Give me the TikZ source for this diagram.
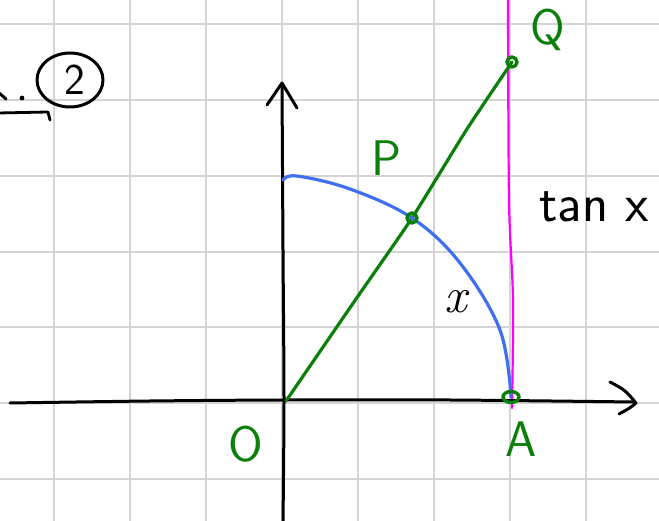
\documentclass[tikz,border=0pt]{standalone}
\definecolor{gridgray}{HTML}{D4D4D4}
\definecolor{pgreen}{HTML}{0A7F0A}
\definecolor{pblue}{HTML}{4070F0}
\definecolor{pmag}{HTML}{FF00FF}
\begin{document}
\begin{tikzpicture}[x=1pt,y=-1pt,line cap=round,line join=round,
  gridline/.style={draw=gridgray,line width=2pt},
  axisline/.style={draw=black,line width=3pt},
  gline/.style={draw=pgreen,line width=3.2pt},
  bline/.style={draw=pblue,line width=3.2pt},
  mline/.style={draw=pmag,line width=2.2pt},
  ptmark/.style={draw=pgreen,line width=3.4pt},
  glabel/.style={text=pgreen,font=\fontsize{50}{50}\selectfont\sffamily,inner sep=0pt},
  klabel/.style={text=black,inner sep=0pt}]
\useasboundingbox (0,0) rectangle (659,521);
\fill[white] (0,0) rectangle (659,521);
% grid
\foreach \gx in {54,130,206,282,358,434,510,586} \draw[gridline] (\gx,-2) -- (\gx,523);
\foreach \gy in {24,100,176,252,327,403,479} \draw[gridline] (-2,\gy) -- (661,\gy);
% key coordinates
\coordinate (O) at (286,401);
\coordinate (P) at (412,218);
\coordinate (Q) at (512,62);
\coordinate (A) at (511,397);
\coordinate (Y0) at (283,180);
% magenta line
\draw[mline] plot[smooth] coordinates {(508,-2) (509,200) (513,300) (512,408)};
% axes
\coordinate (xs) at (10,403);
\coordinate (xe) at (634,402);
\draw[axisline] plot[smooth] coordinates {(xs) (150,401) (283,400) (450,400) (xe)};
\draw[axisline] (610,382) .. controls (625,390) .. (636,403) .. controls (630,408) .. (619,414);
\coordinate (ys) at (283,523);
\coordinate (ye) at (282,84);
\draw[axisline] plot[smooth] coordinates {(ys) (284,400) (283,250) (ye)};
\draw[axisline] (267,105) -- (282,83) -- (297,108);
% green line O-P-Q
\draw[gline] plot[smooth,tension=0.3] coordinates {(O) (356,299) (P) (467,129) (Q)};
% blue arc
\draw[bline] plot[smooth,tension=0.6] coordinates {(Y0) (297,176) (350,189) (P) (460,263) (500,330) (A)};
% point marks
\draw[ptmark] (P) circle (5);
\draw[ptmark] (Q) circle (5);
\draw[ptmark] (A) ellipse (8 and 5.5);
% labels
\node[glabel] (labP) at (386,158) {P};
\node[glabel] (labQ) at (548,30) {Q};
\node[glabel] (labO) at (246,444) {O};
\node[glabel] (labA) at (521,439) {A};
\node[klabel,font=\fontsize{54}{54}\selectfont\sffamily] (tanx) at (594,207) {tan x};
\node[klabel,font=\fontsize{50}{50}\selectfont\rmfamily\itshape] (arcx) at (456,302) {x};
% top-left fragment
\draw[black,line width=3pt] (70,80) ellipse (33 and 27);
\node[klabel,font=\fontsize{44}{44}\selectfont\sffamily] (two) at (75,80) {2};
\fill[black] (22,98) circle (2.4);
\draw[black,line width=3pt] (-2,92) -- (6,99);
\draw[black,line width=2.8pt] (-2,113) -- (48,112) -- (50,120);
\end{tikzpicture}
\end{document}
